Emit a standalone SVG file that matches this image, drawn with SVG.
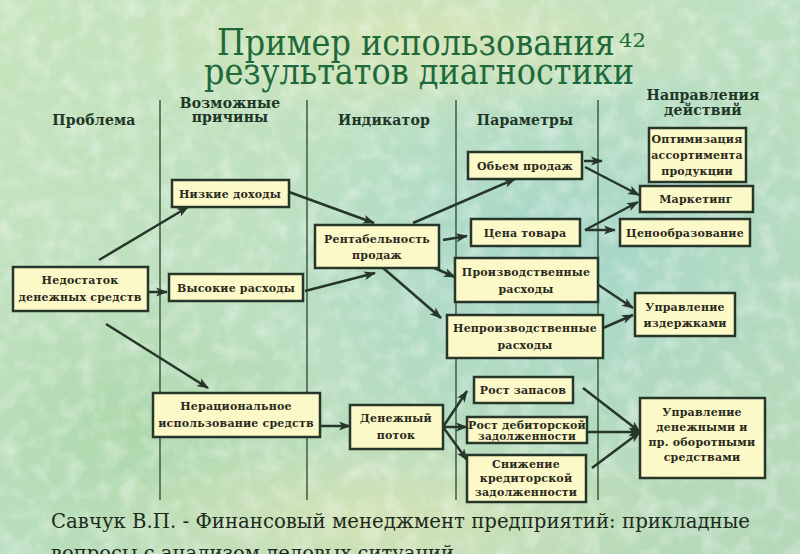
<svg xmlns="http://www.w3.org/2000/svg" width="800" height="554" viewBox="0 0 800 554">
<defs>
<linearGradient id="bg" x1="0" y1="0" x2="1" y2="1">
<stop offset="0" stop-color="#c6e4bc"/>
<stop offset="0.45" stop-color="#bde0c2"/>
<stop offset="1" stop-color="#b4d8b8"/>
</linearGradient>
<radialGradient id="cy" cx="0.5" cy="0.5" r="0.5">
<stop offset="0" stop-color="#9ed4cc" stop-opacity="0.75"/>
<stop offset="1" stop-color="#9ed4cc" stop-opacity="0"/>
</radialGradient>
<radialGradient id="ye" cx="0.5" cy="0.5" r="0.5">
<stop offset="0" stop-color="#dfe6b2" stop-opacity="0.7"/>
<stop offset="1" stop-color="#dfe6b2" stop-opacity="0"/>
</radialGradient>
<radialGradient id="gr" cx="0.5" cy="0.5" r="0.5">
<stop offset="0" stop-color="#a6d49e" stop-opacity="0.6"/>
<stop offset="1" stop-color="#a6d49e" stop-opacity="0"/>
</radialGradient>
<filter id="tex" x="0" y="0" width="100%" height="100%">
<feTurbulence type="fractalNoise" baseFrequency="0.05" numOctaves="3" seed="4"/>
<feColorMatrix type="matrix" values="0 0 0 0 1  0 0 0 0 1  0 0 0 0 1  0 0 0 -2.2 1.25"/>
</filter>
<marker id="ah" viewBox="0 0 12 10" refX="11" refY="5" markerWidth="12" markerHeight="10" markerUnits="userSpaceOnUse" orient="auto">
<path d="M0,0.5 L12,5 L0,9.5 L3,5 z" fill="#26362a"/>
</marker>
<style>
.box{fill:#fcf9c8;stroke:#26362a;stroke-width:2.5}
.bt{font-family:"DejaVu Serif",serif;font-weight:bold;font-size:11px;fill:#2a2a1c;text-anchor:middle;letter-spacing:0.2px}
.hd{font-family:"DejaVu Serif",serif;font-weight:bold;font-size:14px;fill:#1f3627;text-anchor:middle;letter-spacing:0.2px}
.ti{font-family:"DejaVu Serif",serif;font-size:38px;fill:#1e6a3a}
.ft{font-family:"DejaVu Serif",serif;font-size:20px;fill:#1c2a1c}
.vl{stroke:#3d5a40;stroke-width:1.5}
.ar{stroke:#26362a;stroke-width:2.5;fill:none;marker-end:url(#ah)}
</style>
</defs>
<g id="background">
<rect width="800" height="554" fill="url(#bg)"/>
<ellipse cx="560" cy="260" rx="300" ry="220" fill="url(#cy)"/>
<ellipse cx="130" cy="430" rx="220" ry="160" fill="url(#gr)"/>
<ellipse cx="380" cy="520" rx="300" ry="90" fill="url(#ye)"/>
<ellipse cx="420" cy="40" rx="320" ry="80" fill="url(#ye)"/>
<rect width="800" height="554" filter="url(#tex)" opacity="0.35"/>
</g>
<g id="title">
<text class="ti" x="217" y="55" textLength="398" lengthAdjust="spacingAndGlyphs">Пример использования</text>
<text class="ti" x="619" y="47" style="font-size:18px" textLength="27" lengthAdjust="spacingAndGlyphs">42</text>
<text class="ti" x="204" y="84" textLength="430" lengthAdjust="spacingAndGlyphs">результатов диагностики</text>
</g>
<g id="columns">
<line class="vl" x1="160" y1="100" x2="160" y2="500"/>
<line class="vl" x1="307" y1="100" x2="307" y2="500"/>
<line class="vl" x1="456" y1="100" x2="456" y2="500"/>
<line class="vl" x1="598" y1="100" x2="598" y2="500"/>
<text class="hd" x="94" y="125">Проблема</text>
<text class="hd" x="230" y="108">Возможные</text>
<text class="hd" x="230" y="122">причины</text>
<text class="hd" x="384" y="125">Индикатор</text>
<text class="hd" x="525" y="125">Параметры</text>
<text class="hd" x="703" y="100">Направления</text>
<text class="hd" x="703" y="115">действий</text>
</g>
<g id="connectors">
<path class="ar" d="M99,260 L188,207"/>
<path class="ar" d="M148,292 L167,292"/>
<path class="ar" d="M106,324 L208,388"/>
<path class="ar" d="M289,192 L374,223"/>
<path class="ar" d="M305,291 L375,273"/>
<path class="ar" d="M413,223 L515,179"/>
<path class="ar" d="M443,240 L467,236"/>
<path class="ar" d="M432,267 L455,277"/>
<path class="ar" d="M382,267 L441,318"/>
<path class="ar" d="M584,161 L602,161"/>
<path class="ar" d="M585,167 L639,195"/>
<path class="ar" d="M585,230 L638,202"/>
<path class="ar" d="M585,230 L615,230"/>
<path class="ar" d="M597,284 L633,308"/>
<path class="ar" d="M603,328 L633,315"/>
<path class="ar" d="M320,426 L350,426"/>
<path class="ar" d="M443,427 L467,391"/>
<path class="ar" d="M443,427 L467,427"/>
<path class="ar" d="M443,427 L467,460"/>
<path class="ar" d="M583,388 L640,432"/>
<path class="ar" d="M587,432 L640,432"/>
<path class="ar" d="M592,468 L640,432"/>
</g>
<g id="n-nedostatok"><rect class="box" x="13" y="267" width="135" height="44"/><text class="bt" x="80" y="284">Недостаток</text><text class="bt" x="80" y="301">денежных средств</text></g>
<g id="n-nizkie"><rect class="box" x="172" y="180" width="117" height="27"/><text class="bt" x="230" y="198">Низкие доходы</text></g>
<g id="n-vysokie"><rect class="box" x="169" y="274" width="134" height="27"/><text class="bt" x="236" y="292">Высокие расходы</text></g>
<g id="n-neracion"><rect class="box" x="153" y="393" width="167" height="44"/><text class="bt" x="236" y="410">Нерациональное</text><text class="bt" x="236" y="427">использование средств</text></g>
<g id="n-rentab"><rect class="box" x="315" y="225" width="124" height="43"/><text class="bt" x="377" y="243">Рентабельность</text><text class="bt" x="377" y="259">продаж</text></g>
<g id="n-denpotok"><rect class="box" x="350" y="405" width="93" height="44"/><text class="bt" x="396" y="422">Денежный</text><text class="bt" x="396" y="439">поток</text></g>
<g id="n-obem"><rect class="box" x="468" y="152" width="114" height="27"/><text class="bt" x="525" y="170">Обьем продаж</text></g>
<g id="n-cena"><rect class="box" x="471" y="219" width="109" height="27"/><text class="bt" x="525" y="237">Цена товара</text></g>
<g id="n-proizv"><rect class="box" x="455" y="258" width="143" height="44"/><text class="bt" x="526" y="276">Производственные</text><text class="bt" x="526" y="293">расходы</text></g>
<g id="n-neproizv"><rect class="box" x="447" y="315" width="156" height="43"/><text class="bt" x="525" y="332">Непроизводственные</text><text class="bt" x="525" y="349">расходы</text></g>
<g id="n-rostzap"><rect class="box" x="474" y="377" width="99" height="26"/><text class="bt" x="523" y="394">Рост запасов</text></g>
<g id="n-rostdeb"><rect class="box" x="467" y="417" width="120" height="26"/><text class="bt" x="527" y="429">Рост дебиторской</text><text class="bt" x="527" y="440" style="font-size:10.5px">задолженности</text></g>
<g id="n-snizh"><rect class="box" x="467" y="455" width="119" height="47"/><text class="bt" x="526" y="468">Снижение</text><text class="bt" x="526" y="482">кредиторской</text><text class="bt" x="526" y="496">задолженности</text></g>
<g id="n-optim"><rect class="box" x="649" y="128" width="97" height="54"/><text class="bt" x="697" y="143">Оптимизация</text><text class="bt" x="697" y="159">ассортимента</text><text class="bt" x="697" y="175">продукции</text></g>
<g id="n-market"><rect class="box" x="640" y="186" width="113" height="26"/><text class="bt" x="696" y="203">Маркетинг</text></g>
<g id="n-cenoobr"><rect class="box" x="620" y="219" width="130" height="27"/><text class="bt" x="685" y="237">Ценообразование</text></g>
<g id="n-izderzh"><rect class="box" x="635" y="293" width="100" height="43"/><text class="bt" x="685" y="311">Управление</text><text class="bt" x="685" y="327">издержками</text></g>
<g id="n-denupr"><rect class="box" x="640" y="398" width="125" height="80"/><text class="bt" x="702" y="416">Управление</text><text class="bt" x="702" y="431">денежными и</text><text class="bt" x="702" y="446">пр. оборотными</text><text class="bt" x="702" y="461">средствами</text></g>
<g id="footer">
<text class="ft" x="51" y="528" textLength="699" lengthAdjust="spacingAndGlyphs">Савчук В.П. - Финансовый менеджмент предприятий: прикладные</text>
<text class="ft" x="51" y="560" textLength="403" lengthAdjust="spacingAndGlyphs">вопросы с анализом деловых ситуаций</text>
</g>
</svg>
